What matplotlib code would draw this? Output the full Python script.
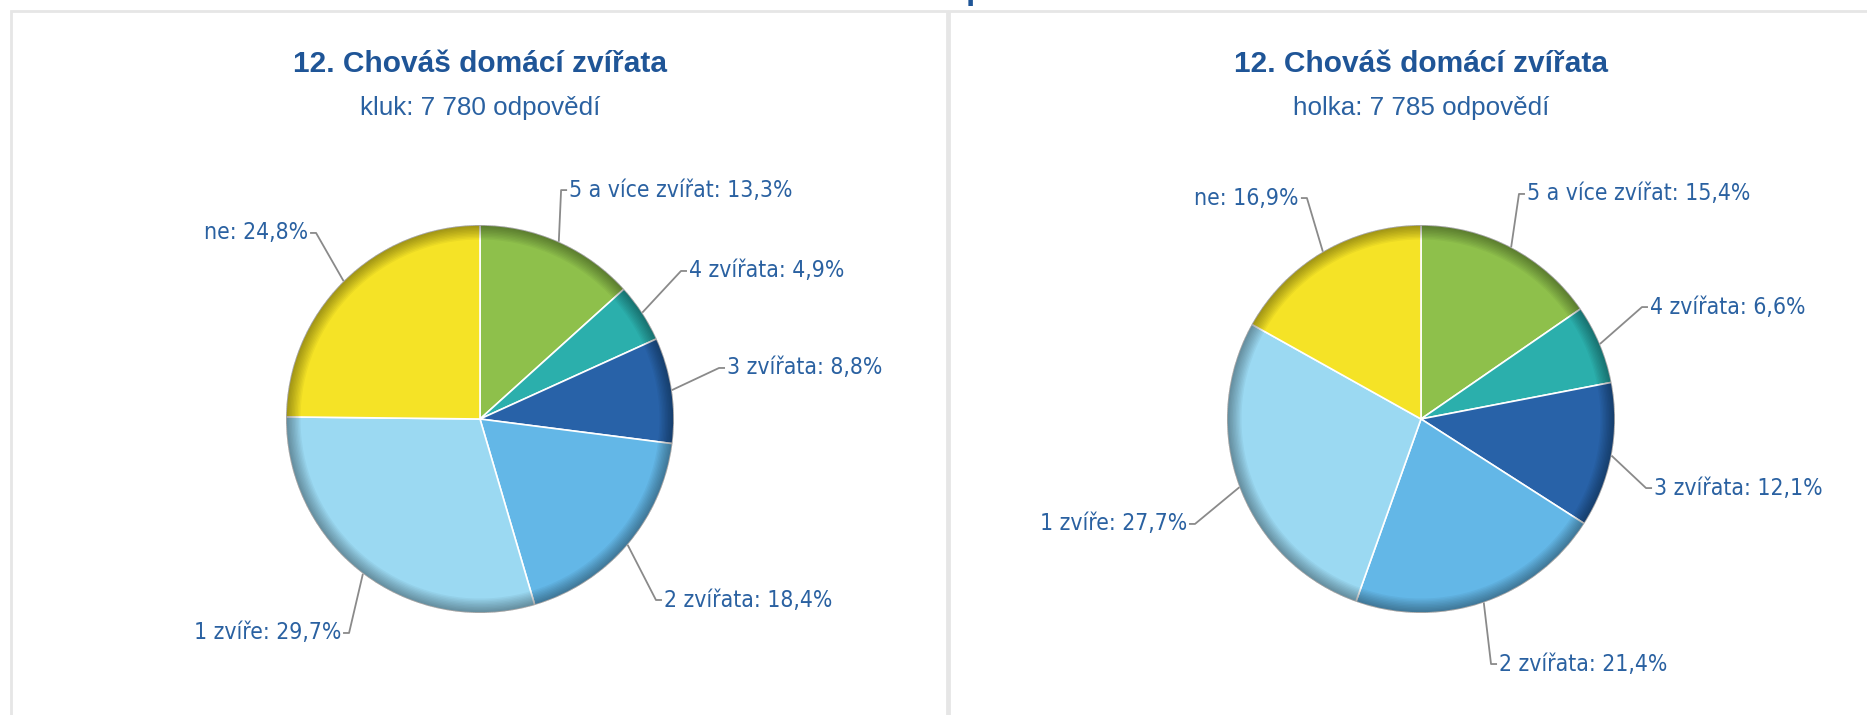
import matplotlib
matplotlib.use("Agg")
import matplotlib.pyplot as plt
from matplotlib import font_manager
from matplotlib.patches import Wedge, Rectangle
import numpy as np

# survey data (percent)
categories = ["5 a více zvířat", "4 zvířata", "3 zvířata", "2 zvířata", "1 zvíře", "ne"]
boys = [13.3, 4.9, 8.8, 18.4, 29.7, 24.8]
girls = [15.4, 6.6, 12.1, 21.4, 27.7, 16.9]
groups = ["kluk", "holka"]
answers = [7780, 7785]
question = "12. Chováš domácí zvířata"

colors = ["#8ec04b", "#2bafac", "#2862a8", "#63b7e7", "#9bd9f2", "#f5e326"]

# label elbow positions in units of the pie radius (layout only)
left_label_pos = [(0.418, 1.180), (1.036, 0.763), (1.232, 0.263),
                  (0.907, -0.933), (-0.675, -1.103), (-0.845, 0.959)]
right_label_pos = [(0.505, 1.160), (1.139, 0.577), (1.160, -0.356),
                   (0.361, -1.263), (-1.165, -0.541), (-0.588, 1.139)]

W, H = 1867, 715
TITLE_COLOR = "#1f5597"
TEXT_COLOR = "#2a61a1"


def pick_font(names):
    for n in names:
        try:
            font_manager.findfont(n, fallback_to_default=False)
            return n
        except Exception:
            pass
    return "DejaVu Sans"


regular = pick_font(["Liberation Sans", "Arimo", "DejaVu Sans"])

# condensed label font if one is installed
label_font = dict(family="DejaVu Sans", fontstretch="condensed", fontsize=16.5)
fp = font_manager.FontProperties(family="DejaVu Sans", stretch="condensed")
if "Condensed" not in font_manager.findfont(fp):
    label_font = dict(family="DejaVu Sans", fontsize=15.5)

fig = plt.figure(figsize=(W / 100, H / 100), dpi=100)
ax = fig.add_axes([0, 0, 1, 1])

# panel frames
ax.add_patch(Rectangle((11, -20), 936, H - 11 + 20, fill=False, edgecolor="#e6e6e6", lw=2))
ax.add_patch(Rectangle((949, -20), W - 949 + 20, H - 11 + 20, fill=False, edgecolor="#e6e6e6", lw=2))

# page heading, almost entirely above the top edge (only a descender shows)
ax.text(935, H + 1, "Srovnání – pohlaví", ha="center", va="baseline",
        fontsize=24, fontweight="bold", color=TITLE_COLOR, family=regular)


def draw_panel(values, group, n, cx, cy, r, label_pos):
    cy_up = H - cy
    ax.pie(values, colors=colors, startangle=90, counterclock=False,
           center=(cx, cy_up), radius=r,
           wedgeprops=dict(edgecolor="white", linewidth=1.2))
    # rim bevel
    for k in range(10):
        ax.add_patch(Wedge((cx, cy_up), r, 0, 360, width=r * 0.0075 * (k + 1),
                           facecolor="black", alpha=0.04, lw=0))

    ax.text(cx, H - 64, question, ha="center", va="center", fontsize=21.5,
            fontweight="bold", color=TITLE_COLOR, family=regular)
    ax.text(cx, H - 108, f"{group}: {n:,} odpovědí".replace(",", " "),
            ha="center", va="center", fontsize=18.7, color=TEXT_COLOR, family=regular)

    total = sum(values)
    cum = np.cumsum([0] + list(values))
    for i, cat in enumerate(categories):
        mid = (cum[i] + cum[i + 1]) / 2 / total * 2 * np.pi
        ex, ey = cx + r * np.sin(mid), cy_up + r * np.cos(mid)
        lx, ly = cx + label_pos[i][0] * r, cy_up + label_pos[i][1] * r
        side = 1 if lx > cx else -1
        ax.plot([ex, lx, lx + side * 6], [ey, ly, ly], color="#8a8a8a", lw=1.3,
                solid_capstyle="butt")
        txt = f"{cat}: {values[i]:.1f}%".replace(".", ",")
        ax.text(lx + side * 8, ly, txt, ha="left" if side > 0 else "right",
                va="center", color=TEXT_COLOR, **label_font)


draw_panel(boys, groups[0], answers[0], 480, 419, 194, left_label_pos)
draw_panel(girls, groups[1], answers[1], 1421, 419, 194, right_label_pos)

ax.set_xlim(0, W)
ax.set_ylim(0, H)
ax.set_aspect("auto")
ax.axis("off")

fig.savefig("out.png", dpi=100, facecolor="white")
